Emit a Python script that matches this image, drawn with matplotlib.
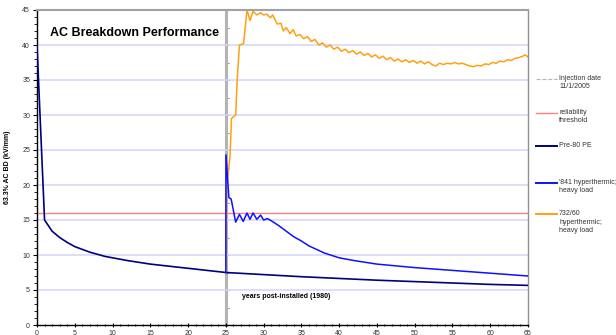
import matplotlib
matplotlib.use('Agg')
import matplotlib.pyplot as plt
from matplotlib.lines import Line2D
from matplotlib.ticker import MultipleLocator

plt.rcParams['font.family'] = ['Liberation Sans', 'DejaVu Sans']

# 数据：近似值
pre80_x = [0, 1, 2, 3, 4, 5, 6, 7, 8, 9, 10, 12, 15, 20, 25, 30, 35, 40, 45, 50, 55, 60, 65]
pre80_y = [40, 15, 13.4, 12.5, 11.8, 11.2, 10.8, 10.4, 10.1, 9.8, 9.6, 9.2, 8.7, 8.1, 7.5,
           7.2, 6.9, 6.65, 6.4, 6.2, 6.0, 5.8, 5.66]

hyper841_x = [25.0, 25.02, 25.4, 25.7, 26.3, 26.8, 27.3, 27.8, 28.2, 28.6, 29.1, 29.6, 30.0,
              30.5, 31, 32, 33, 34, 35, 36, 37, 38, 40, 42, 45, 50, 55, 60, 65]
hyper841_y = [7.5, 24.3, 18.2, 18.0, 14.7, 15.8, 14.8, 16.0, 15.1, 16.0, 15.1, 15.7, 15.0,
              15.2, 14.9, 14.2, 13.4, 12.6, 12.0, 11.3, 10.8, 10.3, 9.6, 9.2, 8.7, 8.2, 7.8, 7.4, 7.0]

h732_x = [25.0, 25.05, 25.3, 25.55, 25.75, 26.3, 26.5, 26.8, 27.35, 27.8, 28.2, 28.6, 29.1,
          29.6, 30.0, 30.4, 30.9, 31.2, 31.8, 32.3, 32.6, 33.0, 33.5, 33.9, 34.3, 34.8, 35.3,
          35.8, 36.3, 36.8, 37.3, 37.8, 38.3, 38.8, 39.3, 39.8, 40.3, 40.8, 41.3, 41.8, 42.3,
          42.8, 43.3, 43.8, 44.3, 44.8, 45.3, 45.8, 46.3, 46.8, 47.3, 47.8, 48.3, 48.8, 49.3,
          49.8, 50.3, 50.8, 51.3, 51.8, 52.3, 52.8, 53.3, 53.8, 54.3, 54.8, 55.3, 55.8, 56.3,
          56.8, 57.3, 57.8, 58.3, 58.8, 59.3, 59.8, 60.3, 60.8, 61.3, 61.8, 62.3, 62.8, 63.3,
          63.8, 64.3, 64.6, 65.0]
h732_y = [7.5, 19.0, 21.5, 24.0, 29.5, 30.0, 35.0, 40.0, 40.2, 45.0, 43.5, 44.8, 44.3,
          44.6, 44.3, 44.4, 43.9, 44.3, 43.0, 43.1, 42.0, 42.5, 41.6, 42.2, 41.3, 41.5, 40.9,
          41.2, 40.5, 40.8, 40.0, 40.3, 39.7, 40.0, 39.4, 39.7, 39.1, 39.4, 38.9, 39.2, 38.7,
          39.0, 38.5, 38.8, 38.3, 38.6, 38.1, 38.4, 37.9, 38.2, 37.7, 38.0, 37.6, 37.9, 37.5,
          37.8, 37.4, 37.7, 37.3, 37.6, 37.2, 37.0, 37.4, 37.2, 37.4, 37.3, 37.5, 37.3, 37.4,
          37.2, 37.0, 36.9, 37.1, 37.0, 37.3, 37.2, 37.5, 37.4, 37.7, 37.6, 37.9, 37.8, 38.1,
          38.2, 38.4, 38.6, 38.3]

threshold = 16
injection_year = 25

c_navy = '#000080'
c_blue = '#1010ff'
c_orange = '#ffa010'
c_red = '#ff8080'
c_gray = '#b4b4b4'

fig = plt.figure(figsize=(6.16, 3.35), dpi=100)
ax = fig.add_axes([37 / 616, 10 / 335, 491 / 616, 315 / 335])

ax.set_xlim(0, 65)
ax.set_ylim(0, 45)
for v in range(5, 45, 5):
    ax.axhline(v, color='#d4d4fa', lw=1.1, zorder=0)
ax.axhline(threshold, color=c_red, lw=1.0, zorder=1)

ax.plot(pre80_x, pre80_y, color=c_navy, lw=1.2, zorder=3)
ax.plot(h732_x, h732_y, color=c_orange, lw=1.1, zorder=2)
ax.plot(hyper841_x, hyper841_y, color=c_blue, lw=1.1, zorder=3)

# 坐标轴样式
ax.xaxis.set_major_locator(MultipleLocator(5))
ax.xaxis.set_minor_locator(MultipleLocator(1))
ax.yaxis.set_major_locator(MultipleLocator(5))
ax.yaxis.set_minor_locator(MultipleLocator(1))
ax.tick_params(axis='both', which='major', labelsize=5, labelcolor='#333333', length=3,
               width=0.8, direction='out', pad=2)
ax.tick_params(axis='both', which='minor', length=2, width=0.6, direction='out')
ax.tick_params(axis='x', which='both', direction='inout')
ax.spines['left'].set_linewidth(1.0)
ax.spines['bottom'].set_linewidth(1.0)
ax.spines['top'].set_color('#a0a0a8')
ax.spines['top'].set_linewidth(1.5)
ax.spines['right'].set_color('#909090')
ax.spines['right'].set_linewidth(1.0)

# 注入日期竖线（第二坐标轴）
ax2 = ax.twinx()
ax2.set_ylim(0, 45)
for s in ['top', 'bottom', 'left']:
    ax2.spines[s].set_visible(False)
ax2.spines['right'].set_position(('axes', injection_year / 65))
ax2.spines['right'].set_color(c_gray)
ax2.spines['right'].set_linewidth(2.2)
ax2.yaxis.set_major_locator(MultipleLocator(2.5))
ax2.tick_params(axis='y', length=2, width=0.6, color='#707070', labelright=False)
ax2.set_zorder(0)
ax.set_zorder(1)
ax.patch.set_visible(False)

ax.text(0.026, 0.945, 'AC Breakdown Performance', transform=ax.transAxes,
        fontsize=9, fontweight='bold', va='top', ha='left')
ax.text(27.2, 4.0, 'years post-installed (1980)', fontsize=5, fontweight='bold',
        va='center', ha='left')
ax.set_ylabel('63.3% AC BD (kV/mm)', fontsize=5, fontweight='bold', labelpad=8)

# 图例（手动放置在右侧）
legend_items = [
    ('Injection date\n11/1/2005', c_gray, '--', 0.8, 79),
    ('reliability\nthreshold', c_red, '-', 1.0, 113),
    ('Pre-80 PE', c_navy, '-', 1.4, 146),
    ("'841 hyperthermic;\nheavy load", c_blue, '-', 1.4, 183),
    ('732/60\nhyperthermic;\nheavy load', c_orange, '-', 1.4, 214),
]
for label, color, ls, lw, ypx in legend_items:
    yf = 1 - ypx / 335
    fig.add_artist(Line2D([536 / 616, 557 / 616], [yf, yf], color=color, ls=ls, lw=lw))
    fig.text(559 / 616, 1 - (ypx - 4) / 335, label, fontsize=5, color='#333333',
             va='top', ha='left', linespacing=1.3)

fig.savefig('out.png', dpi=100)
